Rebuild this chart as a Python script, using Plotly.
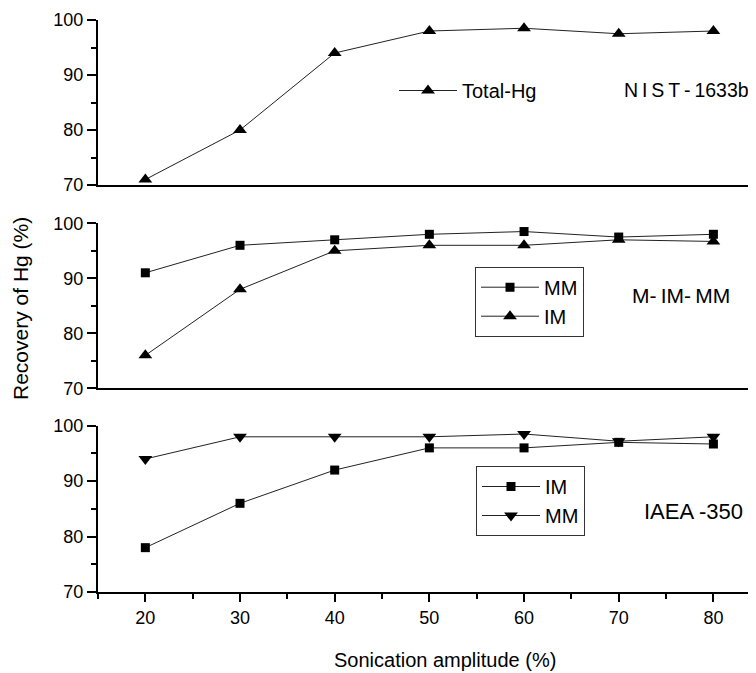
import plotly.graph_objects as go

# ---- data ----
amplitude = [20, 30, 40, 50, 60, 70, 80]
nist_total_hg = [71, 80, 94, 98, 98.5, 97.5, 98]
mim_mm = [91, 96, 97, 98, 98.5, 97.5, 98]
mim_im = [76, 88, 95, 96, 96, 97, 96.7]
iaea_im = [78, 86, 92, 96, 96, 97, 96.7]
iaea_mm = [94, 98, 98, 98, 98.5, 97.2, 98]

y_ticks = [70, 80, 90, 100]
x_ticks = [20, 30, 40, 50, 60, 70, 80]

FONT = "Liberation Sans, Arial, sans-serif"
LINE_C = "#222222"
MARK_C = "#000000"
TS = "\u2009"  # thin space for letter-spaced labels

fig = go.Figure()


def add(y, name, symbol, size, xa, ya, legend):
    fig.add_trace(go.Scatter(
        x=amplitude, y=y, name=name, mode="lines+markers",
        line=dict(color=LINE_C, width=1),
        marker=dict(symbol=symbol, size=size, color=MARK_C),
        xaxis=xa, yaxis=ya, legend=legend, cliponaxis=False,
        showlegend=True,
    ))


add(nist_total_hg, "Total-Hg", "triangle-up", 12, "x", "y", "legend")
add(mim_mm, "MM", "square", 9, "x2", "y2", "legend2")
add(mim_im, "IM", "triangle-up", 12, "x2", "y2", "legend2")
add(iaea_im, "IM", "square", 9, "x3", "y3", "legend3")
add(iaea_mm, "MM", "triangle-down", 12, "x3", "y3", "legend3")

# page body has an 8px margin: figure is 748x665 placed at (8, 8)
# plot area (page px): left 98, right 756, top 20, bottom 592
doms = {
    "": [0.7115, 1.0],
    "2": [0.356, 0.6446],
    "3": [0.0, 0.2907],
}

layout = dict(
    width=748, height=665,
    margin=dict(l=90, r=0, t=12, b=81),
    paper_bgcolor="white", plot_bgcolor="white",
    font=dict(family=FONT, size=18, color="black"),
    showlegend=True,
)

for key in ["", "2", "3"]:
    last = key == "3"
    layout["xaxis" + key] = dict(
        domain=[0, 1], range=[15, 84.5], anchor="y" + key,
        showline=True, linecolor="black", linewidth=2,
        showgrid=False, zeroline=False,
        tickmode="array", tickvals=x_ticks,
        ticks="outside" if last else "", ticklen=8, tickwidth=1.5, tickcolor="black",
        showticklabels=last,
        tickfont=dict(size=18),
        minor=dict(ticks="outside" if last else "", ticklen=5, tickwidth=1.5,
                   tickcolor="black", dtick=5, tick0=15, showgrid=False),
    )
    layout["yaxis" + key] = dict(
        domain=doms[key], range=[70, 100], anchor="x" + key,
        showline=True, linecolor="black", linewidth=2,
        showgrid=False, zeroline=False,
        tickmode="array", tickvals=y_ticks,
        ticks="outside", ticklen=9, tickwidth=1.5, tickcolor="black",
        tickfont=dict(size=18),
        minor=dict(ticks="outside", ticklen=5, tickwidth=1.5,
                   tickcolor="black", dtick=5, tick0=70, showgrid=False),
    )


def px_x(px):
    return (px - 98) / 658


def px_y(py):
    return (592 - py) / 572


layout["legend"] = dict(
    x=px_x(394), y=px_y(71), xanchor="left", yanchor="top",
    bgcolor="rgba(0,0,0,0)", borderwidth=0, font=dict(size=20),
    tracegroupgap=0, itemwidth=58,
)
layout["legend2"] = dict(
    x=px_x(475), y=px_y(266.7), xanchor="left", yanchor="top",
    bgcolor="white", bordercolor="#333333", borderwidth=1, font=dict(size=20),
    tracegroupgap=0, itemwidth=58,
)
layout["legend3"] = dict(
    x=px_x(476), y=px_y(466), xanchor="left", yanchor="top",
    bgcolor="white", bordercolor="#333333", borderwidth=1, font=dict(size=20),
    tracegroupgap=0, itemwidth=58,
)

fig.update_layout(**layout)

fig.add_annotation(text="N" + TS + "I" + TS + "S" + TS + "T" + TS + "-" + TS + "1633b",
                   x=px_x(686), y=px_y(90), xanchor="center", yanchor="middle",
                   xref="paper", yref="paper", showarrow=False,
                   font=dict(family=FONT, size=19.5, color="black"))
fig.add_annotation(text="M-" + TS + "IM-" + TS + "MM",
                   x=px_x(681), y=px_y(295), xanchor="center", yanchor="middle",
                   xref="paper", yref="paper", showarrow=False,
                   font=dict(family=FONT, size=21, color="black"))
fig.add_annotation(text="IAEA -350",
                   x=px_x(693), y=px_y(511.7), xanchor="center", yanchor="middle",
                   xref="paper", yref="paper", showarrow=False,
                   font=dict(family=FONT, size=22, color="black"))
fig.add_annotation(text="Recovery of Hg (%)", textangle=-90,
                   x=px_x(20), y=px_y(309), xanchor="center", yanchor="middle",
                   xref="paper", yref="paper", showarrow=False,
                   font=dict(family=FONT, size=21, color="black"))
fig.add_annotation(text="Sonication amplitude (%)",
                   x=px_x(445), y=px_y(660), xanchor="center", yanchor="middle",
                   xref="paper", yref="paper", showarrow=False,
                   font=dict(family=FONT, size=20, color="black"))

fig.write_html("out.html")
